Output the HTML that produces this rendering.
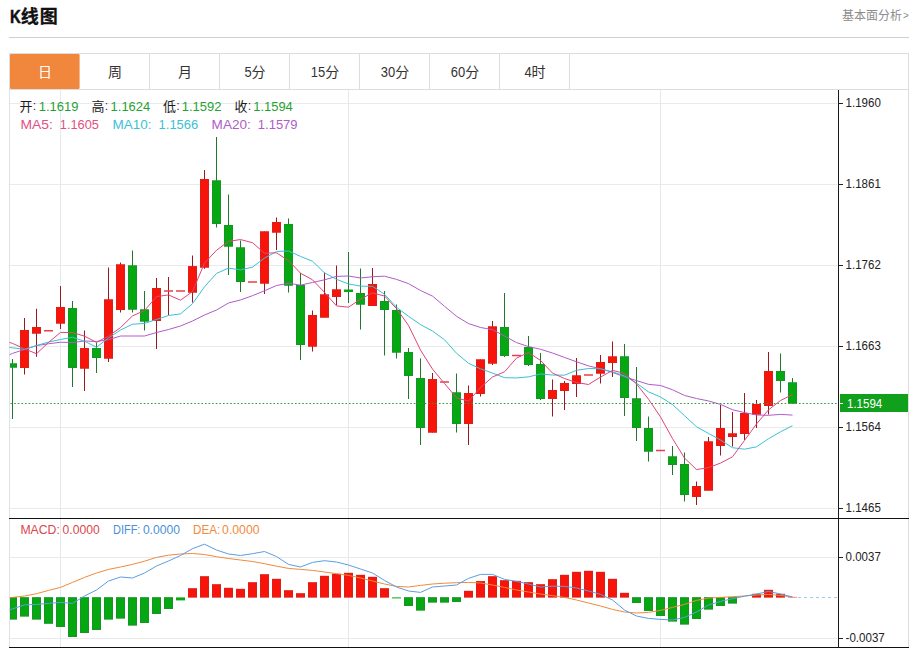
<!DOCTYPE html>
<html><head><meta charset="utf-8"><title>K-line chart</title>
<style>html,body{margin:0;padding:0;background:#fff;width:913px;height:650px;overflow:hidden;font-family:"Liberation Sans","Noto Sans CJK SC",sans-serif}</style></head>
<body>
<svg width="913" height="650" viewBox="0 0 913 650" style="position:absolute;left:0;top:0;font-family:'Liberation Sans','Noto Sans CJK SC',sans-serif">
<rect width="913" height="650" fill="#fff"/>
<text x="10" y="23" font-size="18" font-weight="700" fill="#111" stroke="#111" stroke-width="0.45" textLength="10.8" lengthAdjust="spacingAndGlyphs">K</text>
<text x="20.65 39.76" y="22.95" font-size="18" font-weight="700" fill="#111" stroke="#111" stroke-width="0.3">线图</text>
<text x="842 854 866 878 890" y="20.4" font-size="12" fill="#8c8c8c">基本面分析</text>
<text x="902.9" y="19.3" font-size="10" fill="#8c8c8c">&gt;</text>
<rect x="9" y="37" width="900" height="1" fill="#cfcfcf"/>
<rect x="9.5" y="53.5" width="899" height="36" fill="#fff" stroke="#dddddd" stroke-width="1"/>
<rect x="149" y="54" width="1" height="35" fill="#dddddd"/>
<rect x="219" y="54" width="1" height="35" fill="#dddddd"/>
<rect x="289" y="54" width="1" height="35" fill="#dddddd"/>
<rect x="359" y="54" width="1" height="35" fill="#dddddd"/>
<rect x="429" y="54" width="1" height="35" fill="#dddddd"/>
<rect x="499" y="54" width="1" height="35" fill="#dddddd"/>
<rect x="569" y="54" width="1" height="35" fill="#dddddd"/>
<rect x="10" y="54" width="69.6" height="35" rx="1.2" ry="1.2" fill="#f0873c"/>
<text x="38" y="77.2" font-size="14" fill="#fff">日</text>
<text x="108" y="77.2" font-size="14" fill="#333">周</text>
<text x="178" y="77.2" font-size="14" fill="#333">月</text>
<text x="244.40" y="77.3" font-size="14" fill="#333" textLength="7.2" lengthAdjust="spacingAndGlyphs">5</text>
<text x="251.6" y="77.2" font-size="14" fill="#333">分</text>
<text x="310.80" y="77.3" font-size="14" fill="#333" textLength="14.4" lengthAdjust="spacingAndGlyphs">15</text>
<text x="325.2" y="77.2" font-size="14" fill="#333">分</text>
<text x="380.80" y="77.3" font-size="14" fill="#333" textLength="14.4" lengthAdjust="spacingAndGlyphs">30</text>
<text x="395.2" y="77.2" font-size="14" fill="#333">分</text>
<text x="450.80" y="77.3" font-size="14" fill="#333" textLength="14.4" lengthAdjust="spacingAndGlyphs">60</text>
<text x="465.2" y="77.2" font-size="14" fill="#333">分</text>
<text x="524.40" y="77.3" font-size="14" fill="#333" textLength="7.2" lengthAdjust="spacingAndGlyphs">4</text>
<text x="531.6" y="77.2" font-size="14" fill="#333">时</text>
<rect x="9" y="90" width="1" height="558" fill="#dfe2e6"/>
<rect x="908" y="90" width="1" height="558" fill="#dddddd"/>
<rect x="10" y="103" width="827" height="1" fill="#eaeaea"/>
<rect x="10" y="184" width="827" height="1" fill="#eaeaea"/>
<rect x="10" y="265" width="827" height="1" fill="#eaeaea"/>
<rect x="10" y="346" width="827" height="1" fill="#eaeaea"/>
<rect x="10" y="427" width="827" height="1" fill="#eaeaea"/>
<rect x="10" y="508" width="827" height="1" fill="#eaeaea"/>
<rect x="10" y="557" width="827" height="1" fill="#eaeaea"/>
<rect x="10" y="638" width="827" height="1" fill="#eaeaea"/>
<rect x="60" y="90" width="1" height="558" fill="#e3e9f0"/>
<rect x="348" y="90" width="1" height="558" fill="#e3e9f0"/>
<rect x="660" y="90" width="1" height="558" fill="#e3e9f0"/>
<rect x="12.0" y="359" width="1" height="60" fill="#23752f"/>
<rect x="10" y="363.5" width="7" height="4.0" fill="#05a810"/>
<rect x="10.5" y="364.0" width="6" height="3.0" fill="none" stroke="#179428" stroke-width="1"/>
<rect x="24.0" y="318" width="1" height="56.5" fill="#9a1820"/>
<rect x="20" y="330" width="9" height="38" fill="#f8140a"/>
<rect x="20.5" y="330.5" width="8" height="37" fill="none" stroke="#dc2018" stroke-width="1"/>
<rect x="36.0" y="308.75" width="1" height="48.0" fill="#9a1820"/>
<rect x="32" y="327" width="9" height="6.5" fill="#f8140a"/>
<rect x="32.5" y="327.5" width="8" height="5.5" fill="none" stroke="#dc2018" stroke-width="1"/>
<rect x="44" y="330.0" width="9" height="1.5" fill="#e8404a"/>
<rect x="60.0" y="286" width="1" height="43" fill="#9a1820"/>
<rect x="56" y="307" width="9" height="16.5" fill="#f8140a"/>
<rect x="56.5" y="307.5" width="8" height="15.5" fill="none" stroke="#dc2018" stroke-width="1"/>
<rect x="72.0" y="301" width="1" height="86" fill="#23752f"/>
<rect x="68" y="308" width="9" height="60" fill="#05a810"/>
<rect x="68.5" y="308.5" width="8" height="59" fill="none" stroke="#179428" stroke-width="1"/>
<rect x="84.0" y="330.5" width="1" height="60.5" fill="#9a1820"/>
<rect x="80" y="348" width="9" height="20.5" fill="#f8140a"/>
<rect x="80.5" y="348.5" width="8" height="19.5" fill="none" stroke="#dc2018" stroke-width="1"/>
<rect x="96.0" y="342.5" width="1" height="30.5" fill="#23752f"/>
<rect x="92" y="348" width="9" height="10" fill="#05a810"/>
<rect x="92.5" y="348.5" width="8" height="9" fill="none" stroke="#179428" stroke-width="1"/>
<rect x="108.0" y="267.5" width="1" height="94.5" fill="#9a1820"/>
<rect x="104" y="299.5" width="9" height="59.0" fill="#f8140a"/>
<rect x="104.5" y="300.0" width="8" height="58.0" fill="none" stroke="#dc2018" stroke-width="1"/>
<rect x="120.0" y="262.5" width="1" height="50.0" fill="#9a1820"/>
<rect x="116" y="264.5" width="9" height="45.5" fill="#f8140a"/>
<rect x="116.5" y="265.0" width="8" height="44.5" fill="none" stroke="#dc2018" stroke-width="1"/>
<rect x="132.0" y="250.5" width="1" height="62.0" fill="#23752f"/>
<rect x="128" y="265.5" width="9" height="44.0" fill="#05a810"/>
<rect x="128.5" y="266.0" width="8" height="43.0" fill="none" stroke="#179428" stroke-width="1"/>
<rect x="144.0" y="291" width="1" height="39.5" fill="#23752f"/>
<rect x="140" y="309.5" width="9" height="12.0" fill="#05a810"/>
<rect x="140.5" y="310.0" width="8" height="11.0" fill="none" stroke="#179428" stroke-width="1"/>
<rect x="156.0" y="278" width="1" height="71" fill="#9a1820"/>
<rect x="152" y="288" width="9" height="33" fill="#f8140a"/>
<rect x="152.5" y="288.5" width="8" height="32" fill="none" stroke="#dc2018" stroke-width="1"/>
<rect x="168.0" y="277" width="1" height="38" fill="#9a1820"/>
<rect x="164" y="290.25" width="9" height="1.5" fill="#e8404a"/>
<rect x="176" y="290.25" width="9" height="1.5" fill="#e8404a"/>
<rect x="192.0" y="255.5" width="1" height="47.0" fill="#9a1820"/>
<rect x="188" y="266.25" width="9" height="26.25" fill="#f8140a"/>
<rect x="188.5" y="266.75" width="8" height="25.25" fill="none" stroke="#dc2018" stroke-width="1"/>
<rect x="204.0" y="170" width="1" height="98.75" fill="#9a1820"/>
<rect x="200" y="179" width="9" height="88.5" fill="#f8140a"/>
<rect x="200.5" y="179.5" width="8" height="87.5" fill="none" stroke="#dc2018" stroke-width="1"/>
<rect x="216.0" y="137" width="1" height="90.5" fill="#23752f"/>
<rect x="212" y="180.5" width="9" height="43.5" fill="#05a810"/>
<rect x="212.5" y="181.0" width="8" height="42.5" fill="none" stroke="#179428" stroke-width="1"/>
<rect x="228.0" y="194.5" width="1" height="80.5" fill="#23752f"/>
<rect x="224" y="225" width="9" height="21.5" fill="#05a810"/>
<rect x="224.5" y="225.5" width="8" height="20.5" fill="none" stroke="#179428" stroke-width="1"/>
<rect x="240.0" y="240.5" width="1" height="51.5" fill="#23752f"/>
<rect x="236" y="247.5" width="9" height="34.5" fill="#05a810"/>
<rect x="236.5" y="248.0" width="8" height="33.5" fill="none" stroke="#179428" stroke-width="1"/>
<rect x="248" y="281.25" width="9" height="1.5" fill="#e8404a"/>
<rect x="264.0" y="231.5" width="1" height="62.5" fill="#9a1820"/>
<rect x="260" y="231.5" width="9" height="52.0" fill="#f8140a"/>
<rect x="260.5" y="232.0" width="8" height="51.0" fill="none" stroke="#dc2018" stroke-width="1"/>
<rect x="276.0" y="217.5" width="1" height="32.5" fill="#9a1820"/>
<rect x="272" y="222" width="9" height="10.5" fill="#f8140a"/>
<rect x="272.5" y="222.5" width="8" height="9.5" fill="none" stroke="#dc2018" stroke-width="1"/>
<rect x="288.0" y="218.5" width="1" height="74.0" fill="#23752f"/>
<rect x="284" y="224" width="9" height="61.5" fill="#05a810"/>
<rect x="284.5" y="224.5" width="8" height="60.5" fill="none" stroke="#179428" stroke-width="1"/>
<rect x="300.0" y="273" width="1" height="87" fill="#23752f"/>
<rect x="296" y="285" width="9" height="60" fill="#05a810"/>
<rect x="296.5" y="285.5" width="8" height="59" fill="none" stroke="#179428" stroke-width="1"/>
<rect x="312.0" y="310.5" width="1" height="41.0" fill="#9a1820"/>
<rect x="308" y="315" width="9" height="31.5" fill="#f8140a"/>
<rect x="308.5" y="315.5" width="8" height="30.5" fill="none" stroke="#dc2018" stroke-width="1"/>
<rect x="324.0" y="272.5" width="1" height="45.0" fill="#9a1820"/>
<rect x="320" y="294.5" width="9" height="23.0" fill="#f8140a"/>
<rect x="320.5" y="295.0" width="8" height="22.0" fill="none" stroke="#dc2018" stroke-width="1"/>
<rect x="336.0" y="265.5" width="1" height="39.5" fill="#9a1820"/>
<rect x="332" y="289.5" width="9" height="7.5" fill="#f8140a"/>
<rect x="332.5" y="290.0" width="8" height="6.5" fill="none" stroke="#dc2018" stroke-width="1"/>
<rect x="348.0" y="252" width="1" height="51" fill="#23752f"/>
<rect x="344" y="289.5" width="9" height="2.5" fill="#05a810"/>
<rect x="360.0" y="268.5" width="1" height="61.0" fill="#23752f"/>
<rect x="356" y="293" width="9" height="11.5" fill="#05a810"/>
<rect x="356.5" y="293.5" width="8" height="10.5" fill="none" stroke="#179428" stroke-width="1"/>
<rect x="372.0" y="268" width="1" height="38" fill="#9a1820"/>
<rect x="368" y="284" width="9" height="22" fill="#f8140a"/>
<rect x="368.5" y="284.5" width="8" height="21" fill="none" stroke="#dc2018" stroke-width="1"/>
<rect x="384.0" y="291" width="1" height="64.5" fill="#23752f"/>
<rect x="380" y="301" width="9" height="9" fill="#05a810"/>
<rect x="380.5" y="301.5" width="8" height="8" fill="none" stroke="#179428" stroke-width="1"/>
<rect x="396.0" y="304.5" width="1" height="54.0" fill="#23752f"/>
<rect x="392" y="310" width="9" height="42.5" fill="#05a810"/>
<rect x="392.5" y="310.5" width="8" height="41.5" fill="none" stroke="#179428" stroke-width="1"/>
<rect x="408.0" y="348" width="1" height="51" fill="#23752f"/>
<rect x="404" y="352" width="9" height="24" fill="#05a810"/>
<rect x="404.5" y="352.5" width="8" height="23" fill="none" stroke="#179428" stroke-width="1"/>
<rect x="420.0" y="358.5" width="1" height="86.5" fill="#23752f"/>
<rect x="416" y="378" width="9" height="50" fill="#05a810"/>
<rect x="416.5" y="378.5" width="8" height="49" fill="none" stroke="#179428" stroke-width="1"/>
<rect x="432.0" y="373" width="1" height="59.5" fill="#9a1820"/>
<rect x="428" y="379" width="9" height="53.5" fill="#f8140a"/>
<rect x="428.5" y="379.5" width="8" height="52.5" fill="none" stroke="#dc2018" stroke-width="1"/>
<rect x="440" y="381.25" width="9" height="1.5" fill="#e8404a"/>
<rect x="456.0" y="373.5" width="1" height="59.0" fill="#23752f"/>
<rect x="452" y="392.5" width="9" height="31.5" fill="#05a810"/>
<rect x="452.5" y="393.0" width="8" height="30.5" fill="none" stroke="#179428" stroke-width="1"/>
<rect x="468.0" y="385.5" width="1" height="59.5" fill="#9a1820"/>
<rect x="464" y="393" width="9" height="31" fill="#f8140a"/>
<rect x="464.5" y="393.5" width="8" height="30" fill="none" stroke="#dc2018" stroke-width="1"/>
<rect x="480.0" y="359.5" width="1" height="37.0" fill="#9a1820"/>
<rect x="476" y="359.5" width="9" height="34.5" fill="#f8140a"/>
<rect x="476.5" y="360.0" width="8" height="33.5" fill="none" stroke="#dc2018" stroke-width="1"/>
<rect x="492.0" y="321" width="1" height="44" fill="#9a1820"/>
<rect x="488" y="326.5" width="9" height="37.0" fill="#f8140a"/>
<rect x="488.5" y="327.0" width="8" height="36.0" fill="none" stroke="#dc2018" stroke-width="1"/>
<rect x="504.0" y="293" width="1" height="64" fill="#23752f"/>
<rect x="500" y="327" width="9" height="29" fill="#05a810"/>
<rect x="500.5" y="327.5" width="8" height="28" fill="none" stroke="#179428" stroke-width="1"/>
<rect x="512" y="354.75" width="9" height="1.5" fill="#e8404a"/>
<rect x="528.0" y="336" width="1" height="30" fill="#23752f"/>
<rect x="524" y="347" width="9" height="18" fill="#05a810"/>
<rect x="524.5" y="347.5" width="8" height="17" fill="none" stroke="#179428" stroke-width="1"/>
<rect x="540.0" y="353" width="1" height="47" fill="#23752f"/>
<rect x="536" y="364" width="9" height="35" fill="#05a810"/>
<rect x="536.5" y="364.5" width="8" height="34" fill="none" stroke="#179428" stroke-width="1"/>
<rect x="552.0" y="379.5" width="1" height="37.0" fill="#9a1820"/>
<rect x="548" y="390" width="9" height="9" fill="#f8140a"/>
<rect x="548.5" y="390.5" width="8" height="8" fill="none" stroke="#dc2018" stroke-width="1"/>
<rect x="564.0" y="381" width="1" height="29" fill="#9a1820"/>
<rect x="560" y="383" width="9" height="8" fill="#f8140a"/>
<rect x="560.5" y="383.5" width="8" height="7" fill="none" stroke="#dc2018" stroke-width="1"/>
<rect x="576.0" y="358" width="1" height="39" fill="#9a1820"/>
<rect x="572" y="375.5" width="9" height="8.5" fill="#f8140a"/>
<rect x="572.5" y="376.0" width="8" height="7.5" fill="none" stroke="#dc2018" stroke-width="1"/>
<rect x="584" y="374.25" width="9" height="1.5" fill="#e8404a"/>
<rect x="600.0" y="355" width="1" height="28.5" fill="#9a1820"/>
<rect x="596" y="362" width="9" height="11.5" fill="#f8140a"/>
<rect x="596.5" y="362.5" width="8" height="10.5" fill="none" stroke="#dc2018" stroke-width="1"/>
<rect x="612.0" y="341.5" width="1" height="35.5" fill="#9a1820"/>
<rect x="608" y="356.5" width="9" height="6.5" fill="#f8140a"/>
<rect x="608.5" y="357.0" width="8" height="5.5" fill="none" stroke="#dc2018" stroke-width="1"/>
<rect x="624.0" y="344" width="1" height="72" fill="#23752f"/>
<rect x="620" y="356.5" width="9" height="41.5" fill="#05a810"/>
<rect x="620.5" y="357.0" width="8" height="40.5" fill="none" stroke="#179428" stroke-width="1"/>
<rect x="636.0" y="367" width="1" height="74" fill="#23752f"/>
<rect x="632" y="398.5" width="9" height="29.5" fill="#05a810"/>
<rect x="632.5" y="399.0" width="8" height="28.5" fill="none" stroke="#179428" stroke-width="1"/>
<rect x="648.0" y="416.5" width="1" height="45.0" fill="#23752f"/>
<rect x="644" y="428" width="9" height="23.5" fill="#05a810"/>
<rect x="644.5" y="428.5" width="8" height="22.5" fill="none" stroke="#179428" stroke-width="1"/>
<rect x="656" y="449.75" width="9" height="1.5" fill="#e8404a"/>
<rect x="672.0" y="446" width="1" height="29" fill="#23752f"/>
<rect x="668" y="456.5" width="9" height="8.5" fill="#05a810"/>
<rect x="668.5" y="457.0" width="8" height="7.5" fill="none" stroke="#179428" stroke-width="1"/>
<rect x="684.0" y="452.5" width="1" height="49.0" fill="#23752f"/>
<rect x="680" y="464" width="9" height="31" fill="#05a810"/>
<rect x="680.5" y="464.5" width="8" height="30" fill="none" stroke="#179428" stroke-width="1"/>
<rect x="696.0" y="481.5" width="1" height="23.5" fill="#9a1820"/>
<rect x="692" y="486" width="9" height="11" fill="#f8140a"/>
<rect x="692.5" y="486.5" width="8" height="10" fill="none" stroke="#dc2018" stroke-width="1"/>
<rect x="708.0" y="437" width="1" height="53.5" fill="#9a1820"/>
<rect x="704" y="441.5" width="9" height="49.0" fill="#f8140a"/>
<rect x="704.5" y="442.0" width="8" height="48.0" fill="none" stroke="#dc2018" stroke-width="1"/>
<rect x="720.0" y="405" width="1" height="50.5" fill="#9a1820"/>
<rect x="716" y="428" width="9" height="18" fill="#f8140a"/>
<rect x="716.5" y="428.5" width="8" height="17" fill="none" stroke="#dc2018" stroke-width="1"/>
<rect x="732.0" y="412" width="1" height="34.5" fill="#9a1820"/>
<rect x="728" y="433.5" width="9" height="3.5" fill="#f8140a"/>
<rect x="728.5" y="434.0" width="8" height="2.5" fill="none" stroke="#dc2018" stroke-width="1"/>
<rect x="744.0" y="393" width="1" height="47" fill="#9a1820"/>
<rect x="740" y="413" width="9" height="21" fill="#f8140a"/>
<rect x="740.5" y="413.5" width="8" height="20" fill="none" stroke="#dc2018" stroke-width="1"/>
<rect x="756.0" y="400" width="1" height="28" fill="#9a1820"/>
<rect x="752" y="404" width="9" height="10.5" fill="#f8140a"/>
<rect x="752.5" y="404.5" width="8" height="9.5" fill="none" stroke="#dc2018" stroke-width="1"/>
<rect x="768.0" y="352" width="1" height="62.5" fill="#9a1820"/>
<rect x="764" y="371" width="9" height="35" fill="#f8140a"/>
<rect x="764.5" y="371.5" width="8" height="34" fill="none" stroke="#dc2018" stroke-width="1"/>
<rect x="780.0" y="353.5" width="1" height="39.0" fill="#23752f"/>
<rect x="776" y="371" width="9" height="10" fill="#05a810"/>
<rect x="776.5" y="371.5" width="8" height="9" fill="none" stroke="#179428" stroke-width="1"/>
<rect x="792.0" y="378" width="1" height="25.5" fill="#23752f"/>
<rect x="788" y="382.5" width="9" height="21.0" fill="#05a810"/>
<rect x="788.5" y="383.0" width="8" height="20.0" fill="none" stroke="#179428" stroke-width="1"/>
<polyline fill="none" stroke="#b05cc8" stroke-width="1.0" stroke-linejoin="round" points="9.5,354.75 12.5,353.40 24.5,349.40 36.5,345.60 48.5,343.75 60.5,342.25 72.5,342.50 84.5,341.00 96.5,341.50 108.5,339.75 120.5,336.00 132.5,336.00 144.5,336.00 156.5,332.50 168.5,329.50 180.5,326.00 192.5,321.00 204.5,315.00 216.5,310.00 228.5,303.00 240.5,299.95 252.5,295.68 264.5,290.75 276.5,285.50 288.5,283.24 300.5,285.14 312.5,282.49 324.5,279.81 336.5,276.39 348.5,276.01 360.5,278.01 372.5,276.74 384.5,276.16 396.5,279.39 408.5,283.64 420.5,290.49 432.5,296.12 444.5,306.27 456.5,316.27 468.5,323.60 480.5,327.48 492.5,329.70 504.5,335.93 516.5,342.60 528.5,346.57 540.5,349.27 552.5,353.02 564.5,357.45 576.5,361.75 588.5,365.90 600.5,368.77 612.5,372.40 624.5,376.80 636.5,380.57 648.5,384.35 660.5,385.48 672.5,389.77 684.5,395.43 696.5,398.52 708.5,400.95 720.5,404.38 732.5,409.73 744.5,412.57 756.5,415.00 768.5,415.30 780.5,414.40 792.5,415.07"/>
<polyline fill="none" stroke="#3cc0d6" stroke-width="1.0" stroke-linejoin="round" points="9.5,347.4 12.5,347.80 24.5,349.40 36.5,345.60 48.5,342.00 60.5,339.50 72.5,337.25 84.5,341.25 96.5,347.20 108.5,338.00 120.5,330.02 132.5,324.23 144.5,323.38 156.5,319.48 168.5,315.50 180.5,313.90 192.5,303.73 204.5,286.82 216.5,273.43 228.5,268.12 240.5,269.88 252.5,267.12 264.5,258.12 276.5,251.53 288.5,250.97 300.5,256.38 312.5,261.25 324.5,272.80 336.5,279.35 348.5,283.90 360.5,286.15 372.5,286.35 384.5,294.20 396.5,307.25 408.5,316.30 420.5,324.60 432.5,331.00 444.5,339.75 456.5,353.20 468.5,363.30 480.5,368.80 492.5,373.05 504.5,377.65 516.5,377.95 528.5,376.85 540.5,373.95 552.5,375.05 564.5,375.15 576.5,370.30 588.5,368.50 600.5,368.75 612.5,371.75 624.5,375.95 636.5,383.20 648.5,391.85 660.5,397.00 672.5,404.50 684.5,415.70 696.5,426.75 708.5,433.40 720.5,440.00 732.5,447.70 744.5,449.20 756.5,446.80 768.5,438.75 780.5,431.80 792.5,425.65"/>
<polyline fill="none" stroke="#e0457a" stroke-width="1.0" stroke-linejoin="round" points="9.5,342.5 12.5,343.40 24.5,348.75 36.5,353.75 48.5,342.50 60.5,332.45 72.5,332.55 84.5,336.15 96.5,342.35 108.5,336.10 120.5,327.60 132.5,315.90 144.5,310.60 156.5,296.60 168.5,294.90 180.5,300.20 192.5,291.55 204.5,263.05 216.5,250.25 228.5,241.35 240.5,239.55 252.5,242.70 264.5,253.20 276.5,252.80 288.5,260.60 300.5,273.20 312.5,279.80 324.5,292.40 336.5,305.90 348.5,307.20 360.5,299.10 372.5,292.90 384.5,296.00 396.5,308.60 408.5,325.40 420.5,350.10 432.5,369.10 444.5,383.50 456.5,397.80 468.5,401.20 480.5,387.50 492.5,377.00 504.5,371.80 516.5,358.10 528.5,352.50 540.5,360.40 552.5,373.10 564.5,378.50 576.5,382.50 588.5,384.50 600.5,377.10 612.5,370.40 624.5,373.40 636.5,383.90 648.5,399.20 660.5,416.90 672.5,438.60 684.5,458.00 696.5,469.60 708.5,467.60 720.5,463.10 732.5,456.80 744.5,440.40 756.5,424.00 768.5,409.90 780.5,400.50 792.5,394.50"/>
<line x1="10.6" y1="403.5" x2="837" y2="403.5" stroke="#2f9a3a" stroke-width="1" stroke-dasharray="1.6 2"/>
<rect x="10" y="597.4" width="7" height="22.0" fill="#05a810"/>
<rect x="10.5" y="597.9" width="6" height="21.0" fill="none" stroke="#179428" stroke-width="1"/>
<rect x="20" y="597.4" width="9" height="19.0" fill="#05a810"/>
<rect x="20.5" y="597.9" width="8" height="18.0" fill="none" stroke="#179428" stroke-width="1"/>
<rect x="32" y="597.4" width="9" height="22.0" fill="#05a810"/>
<rect x="32.5" y="597.9" width="8" height="21.0" fill="none" stroke="#179428" stroke-width="1"/>
<rect x="44" y="597.4" width="9" height="26.2" fill="#05a810"/>
<rect x="44.5" y="597.9" width="8" height="25.2" fill="none" stroke="#179428" stroke-width="1"/>
<rect x="56" y="597.4" width="9" height="29.5" fill="#05a810"/>
<rect x="56.5" y="597.9" width="8" height="28.5" fill="none" stroke="#179428" stroke-width="1"/>
<rect x="68" y="597.4" width="9" height="39.5" fill="#05a810"/>
<rect x="68.5" y="597.9" width="8" height="38.5" fill="none" stroke="#179428" stroke-width="1"/>
<rect x="80" y="597.4" width="9" height="35.5" fill="#05a810"/>
<rect x="80.5" y="597.9" width="8" height="34.5" fill="none" stroke="#179428" stroke-width="1"/>
<rect x="92" y="597.4" width="9" height="32.5" fill="#05a810"/>
<rect x="92.5" y="597.9" width="8" height="31.5" fill="none" stroke="#179428" stroke-width="1"/>
<rect x="104" y="597.4" width="9" height="22.0" fill="#05a810"/>
<rect x="104.5" y="597.9" width="8" height="21.0" fill="none" stroke="#179428" stroke-width="1"/>
<rect x="116" y="597.4" width="9" height="21.0" fill="#05a810"/>
<rect x="116.5" y="597.9" width="8" height="20.0" fill="none" stroke="#179428" stroke-width="1"/>
<rect x="128" y="597.4" width="9" height="28.0" fill="#05a810"/>
<rect x="128.5" y="597.9" width="8" height="27.0" fill="none" stroke="#179428" stroke-width="1"/>
<rect x="140" y="597.4" width="9" height="25.5" fill="#05a810"/>
<rect x="140.5" y="597.9" width="8" height="24.5" fill="none" stroke="#179428" stroke-width="1"/>
<rect x="152" y="597.4" width="9" height="16.5" fill="#05a810"/>
<rect x="152.5" y="597.9" width="8" height="15.5" fill="none" stroke="#179428" stroke-width="1"/>
<rect x="164" y="597.4" width="9" height="11.5" fill="#05a810"/>
<rect x="164.5" y="597.9" width="8" height="10.5" fill="none" stroke="#179428" stroke-width="1"/>
<rect x="176" y="597.4" width="9" height="3.0" fill="#05a810"/>
<rect x="188" y="588.4" width="9" height="9.0" fill="#f8140a"/>
<rect x="188.5" y="588.9" width="8" height="8.0" fill="none" stroke="#dc2018" stroke-width="1"/>
<rect x="200" y="576.4" width="9" height="21.0" fill="#f8140a"/>
<rect x="200.5" y="576.9" width="8" height="20.0" fill="none" stroke="#dc2018" stroke-width="1"/>
<rect x="212" y="584.4" width="9" height="13.0" fill="#f8140a"/>
<rect x="212.5" y="584.9" width="8" height="12.0" fill="none" stroke="#dc2018" stroke-width="1"/>
<rect x="224" y="587.9" width="9" height="9.5" fill="#f8140a"/>
<rect x="224.5" y="588.4" width="8" height="8.5" fill="none" stroke="#dc2018" stroke-width="1"/>
<rect x="236" y="588.9" width="9" height="8.5" fill="#f8140a"/>
<rect x="236.5" y="589.4" width="8" height="7.5" fill="none" stroke="#dc2018" stroke-width="1"/>
<rect x="248" y="582.4" width="9" height="15.0" fill="#f8140a"/>
<rect x="248.5" y="582.9" width="8" height="14.0" fill="none" stroke="#dc2018" stroke-width="1"/>
<rect x="260" y="574.4" width="9" height="23.0" fill="#f8140a"/>
<rect x="260.5" y="574.9" width="8" height="22.0" fill="none" stroke="#dc2018" stroke-width="1"/>
<rect x="272" y="578.9" width="9" height="18.5" fill="#f8140a"/>
<rect x="272.5" y="579.4" width="8" height="17.5" fill="none" stroke="#dc2018" stroke-width="1"/>
<rect x="284" y="590.4" width="9" height="7.0" fill="#f8140a"/>
<rect x="284.5" y="590.9" width="8" height="6.0" fill="none" stroke="#dc2018" stroke-width="1"/>
<rect x="296" y="593.4" width="9" height="4.0" fill="#f8140a"/>
<rect x="296.5" y="593.9" width="8" height="3.0" fill="none" stroke="#dc2018" stroke-width="1"/>
<rect x="308" y="582.4" width="9" height="15.0" fill="#f8140a"/>
<rect x="308.5" y="582.9" width="8" height="14.0" fill="none" stroke="#dc2018" stroke-width="1"/>
<rect x="320" y="575.9" width="9" height="21.5" fill="#f8140a"/>
<rect x="320.5" y="576.4" width="8" height="20.5" fill="none" stroke="#dc2018" stroke-width="1"/>
<rect x="332" y="573.9" width="9" height="23.5" fill="#f8140a"/>
<rect x="332.5" y="574.4" width="8" height="22.5" fill="none" stroke="#dc2018" stroke-width="1"/>
<rect x="344" y="572.9" width="9" height="24.5" fill="#f8140a"/>
<rect x="344.5" y="573.4" width="8" height="23.5" fill="none" stroke="#dc2018" stroke-width="1"/>
<rect x="356" y="574.9" width="9" height="22.5" fill="#f8140a"/>
<rect x="356.5" y="575.4" width="8" height="21.5" fill="none" stroke="#dc2018" stroke-width="1"/>
<rect x="368" y="576.9" width="9" height="20.5" fill="#f8140a"/>
<rect x="368.5" y="577.4" width="8" height="19.5" fill="none" stroke="#dc2018" stroke-width="1"/>
<rect x="380" y="588.4" width="9" height="9.0" fill="#f8140a"/>
<rect x="380.5" y="588.9" width="8" height="8.0" fill="none" stroke="#dc2018" stroke-width="1"/>
<rect x="392" y="597.4" width="9" height="1.0" fill="#05a810"/>
<rect x="404" y="597.4" width="9" height="8.5" fill="#05a810"/>
<rect x="404.5" y="597.9" width="8" height="7.5" fill="none" stroke="#179428" stroke-width="1"/>
<rect x="416" y="597.4" width="9" height="13.0" fill="#05a810"/>
<rect x="416.5" y="597.9" width="8" height="12.0" fill="none" stroke="#179428" stroke-width="1"/>
<rect x="428" y="597.4" width="9" height="5.0" fill="#05a810"/>
<rect x="428.5" y="597.9" width="8" height="4.0" fill="none" stroke="#179428" stroke-width="1"/>
<rect x="440" y="597.4" width="9" height="5.0" fill="#05a810"/>
<rect x="440.5" y="597.9" width="8" height="4.0" fill="none" stroke="#179428" stroke-width="1"/>
<rect x="452" y="597.4" width="9" height="4.5" fill="#05a810"/>
<rect x="452.5" y="597.9" width="8" height="3.5" fill="none" stroke="#179428" stroke-width="1"/>
<rect x="464" y="590.9" width="9" height="6.5" fill="#f8140a"/>
<rect x="464.5" y="591.4" width="8" height="5.5" fill="none" stroke="#dc2018" stroke-width="1"/>
<rect x="476" y="581.2" width="9" height="16.2" fill="#f8140a"/>
<rect x="476.5" y="581.7" width="8" height="15.2" fill="none" stroke="#dc2018" stroke-width="1"/>
<rect x="488" y="576.4" width="9" height="21.0" fill="#f8140a"/>
<rect x="488.5" y="576.9" width="8" height="20.0" fill="none" stroke="#dc2018" stroke-width="1"/>
<rect x="500" y="580.4" width="9" height="17.0" fill="#f8140a"/>
<rect x="500.5" y="580.9" width="8" height="16.0" fill="none" stroke="#dc2018" stroke-width="1"/>
<rect x="512" y="580.9" width="9" height="16.5" fill="#f8140a"/>
<rect x="512.5" y="581.4" width="8" height="15.5" fill="none" stroke="#dc2018" stroke-width="1"/>
<rect x="524" y="582.4" width="9" height="15.0" fill="#f8140a"/>
<rect x="524.5" y="582.9" width="8" height="14.0" fill="none" stroke="#dc2018" stroke-width="1"/>
<rect x="536" y="584.4" width="9" height="13.0" fill="#f8140a"/>
<rect x="536.5" y="584.9" width="8" height="12.0" fill="none" stroke="#dc2018" stroke-width="1"/>
<rect x="548" y="579.4" width="9" height="18.0" fill="#f8140a"/>
<rect x="548.5" y="579.9" width="8" height="17.0" fill="none" stroke="#dc2018" stroke-width="1"/>
<rect x="560" y="574.9" width="9" height="22.5" fill="#f8140a"/>
<rect x="560.5" y="575.4" width="8" height="21.5" fill="none" stroke="#dc2018" stroke-width="1"/>
<rect x="572" y="571.9" width="9" height="25.5" fill="#f8140a"/>
<rect x="572.5" y="572.4" width="8" height="24.5" fill="none" stroke="#dc2018" stroke-width="1"/>
<rect x="584" y="570.9" width="9" height="26.5" fill="#f8140a"/>
<rect x="584.5" y="571.4" width="8" height="25.5" fill="none" stroke="#dc2018" stroke-width="1"/>
<rect x="596" y="571.9" width="9" height="25.5" fill="#f8140a"/>
<rect x="596.5" y="572.4" width="8" height="24.5" fill="none" stroke="#dc2018" stroke-width="1"/>
<rect x="608" y="578.9" width="9" height="18.5" fill="#f8140a"/>
<rect x="608.5" y="579.4" width="8" height="17.5" fill="none" stroke="#dc2018" stroke-width="1"/>
<rect x="620" y="592.9" width="9" height="4.5" fill="#f8140a"/>
<rect x="620.5" y="593.4" width="8" height="3.5" fill="none" stroke="#dc2018" stroke-width="1"/>
<rect x="632" y="597.4" width="9" height="5.5" fill="#05a810"/>
<rect x="632.5" y="597.9" width="8" height="4.5" fill="none" stroke="#179428" stroke-width="1"/>
<rect x="644" y="597.4" width="9" height="13.5" fill="#05a810"/>
<rect x="644.5" y="597.9" width="8" height="12.5" fill="none" stroke="#179428" stroke-width="1"/>
<rect x="656" y="597.4" width="9" height="18.5" fill="#05a810"/>
<rect x="656.5" y="597.9" width="8" height="17.5" fill="none" stroke="#179428" stroke-width="1"/>
<rect x="668" y="597.4" width="9" height="24.0" fill="#05a810"/>
<rect x="668.5" y="597.9" width="8" height="23.0" fill="none" stroke="#179428" stroke-width="1"/>
<rect x="680" y="597.4" width="9" height="27.0" fill="#05a810"/>
<rect x="680.5" y="597.9" width="8" height="26.0" fill="none" stroke="#179428" stroke-width="1"/>
<rect x="692" y="597.4" width="9" height="21.5" fill="#05a810"/>
<rect x="692.5" y="597.9" width="8" height="20.5" fill="none" stroke="#179428" stroke-width="1"/>
<rect x="704" y="597.4" width="9" height="12.0" fill="#05a810"/>
<rect x="704.5" y="597.9" width="8" height="11.0" fill="none" stroke="#179428" stroke-width="1"/>
<rect x="716" y="597.4" width="9" height="8.5" fill="#05a810"/>
<rect x="716.5" y="597.9" width="8" height="7.5" fill="none" stroke="#179428" stroke-width="1"/>
<rect x="728" y="597.4" width="9" height="6.0" fill="#05a810"/>
<rect x="728.5" y="597.9" width="8" height="5.0" fill="none" stroke="#179428" stroke-width="1"/>
<rect x="752" y="593.9" width="9" height="3.5" fill="#f8140a"/>
<rect x="752.5" y="594.4" width="8" height="2.5" fill="none" stroke="#dc2018" stroke-width="1"/>
<rect x="764" y="589.9" width="9" height="7.5" fill="#f8140a"/>
<rect x="764.5" y="590.4" width="8" height="6.5" fill="none" stroke="#dc2018" stroke-width="1"/>
<rect x="776" y="593.9" width="9" height="3.5" fill="#f8140a"/>
<rect x="776.5" y="594.4" width="8" height="2.5" fill="none" stroke="#dc2018" stroke-width="1"/>
<rect x="788" y="596.9" width="9" height="0.5" fill="#f8140a"/>
<line x1="798" y1="597.5" x2="838" y2="597.5" stroke="#9ccbeb" stroke-width="1" stroke-dasharray="3 3"/>
<polyline fill="none" stroke="#f08a3c" stroke-width="1.0" stroke-linejoin="round" points="9.5,597.9 12.5,597.40 24.5,596.00 36.5,593.70 48.5,590.40 60.5,587.40 72.5,582.40 84.5,577.40 96.5,573.00 108.5,569.40 120.5,567.00 132.5,564.40 144.5,561.20 156.5,557.40 168.5,555.20 180.5,554.00 192.5,553.50 204.5,554.50 216.5,556.70 228.5,558.50 240.5,560.00 252.5,561.50 264.5,563.70 276.5,566.20 288.5,568.40 300.5,569.40 312.5,570.40 324.5,572.00 336.5,573.70 348.5,575.40 360.5,578.00 372.5,581.00 384.5,584.00 396.5,586.40 408.5,587.00 420.5,585.40 432.5,584.00 444.5,583.20 456.5,582.70 468.5,582.40 480.5,583.00 492.5,585.00 504.5,587.40 516.5,590.00 528.5,592.00 540.5,594.00 552.5,595.70 564.5,597.40 576.5,600.00 588.5,603.00 600.5,606.00 612.5,609.40 624.5,612.00 636.5,613.00 648.5,612.40 660.5,610.40 672.5,607.40 684.5,604.40 696.5,600.40 708.5,598.00 720.5,597.40 732.5,596.70 744.5,596.00 756.5,595.00 768.5,594.40 780.5,595.40 792.5,597.00"/>
<polyline fill="none" stroke="#5b9ee0" stroke-width="1.0" stroke-linejoin="round" points="9.5,609.9 12.5,608.90 24.5,604.90 36.5,604.40 48.5,603.40 60.5,602.40 72.5,603.40 84.5,596.00 96.5,590.00 108.5,581.00 120.5,577.00 132.5,578.00 144.5,573.00 156.5,566.00 168.5,561.00 180.5,555.50 192.5,548.70 204.5,544.20 216.5,550.00 228.5,554.00 240.5,555.50 252.5,553.70 264.5,551.50 276.5,556.50 288.5,564.40 300.5,567.00 312.5,562.40 324.5,560.70 336.5,562.00 348.5,565.00 360.5,569.00 372.5,573.00 384.5,580.40 396.5,587.00 408.5,591.00 420.5,592.40 432.5,587.00 444.5,586.00 456.5,585.00 468.5,578.40 480.5,574.40 492.5,574.40 504.5,579.40 516.5,581.40 528.5,584.00 540.5,587.00 552.5,586.20 564.5,586.40 576.5,588.00 588.5,591.00 600.5,594.40 612.5,600.00 624.5,610.00 636.5,616.00 648.5,618.40 660.5,619.40 672.5,620.00 684.5,617.40 696.5,612.00 708.5,605.00 720.5,601.40 732.5,598.70 744.5,596.20 756.5,594.00 768.5,591.40 780.5,594.00 792.5,597.00"/>
<rect x="9" y="518" width="900" height="1" fill="#111"/>
<rect x="9" y="647" width="900" height="1" fill="#111"/>
<rect x="838" y="90" width="1" height="558" fill="#1a1a1a"/>
<rect x="839" y="103" width="4" height="1" fill="#222"/>
<text x="845.6" y="107.4" font-size="12" fill="#222" textLength="35.2" lengthAdjust="spacingAndGlyphs">1.1960</text>
<rect x="839" y="184" width="4" height="1" fill="#222"/>
<text x="845.6" y="188.4" font-size="12" fill="#222" textLength="35.2" lengthAdjust="spacingAndGlyphs">1.1861</text>
<rect x="839" y="265" width="4" height="1" fill="#222"/>
<text x="845.6" y="269.4" font-size="12" fill="#222" textLength="35.2" lengthAdjust="spacingAndGlyphs">1.1762</text>
<rect x="839" y="346" width="4" height="1" fill="#222"/>
<text x="845.6" y="350.4" font-size="12" fill="#222" textLength="35.2" lengthAdjust="spacingAndGlyphs">1.1663</text>
<rect x="839" y="427" width="4" height="1" fill="#222"/>
<text x="845.6" y="431.4" font-size="12" fill="#222" textLength="35.2" lengthAdjust="spacingAndGlyphs">1.1564</text>
<rect x="839" y="508" width="4" height="1" fill="#222"/>
<text x="845.6" y="512.4" font-size="12" fill="#222" textLength="35.2" lengthAdjust="spacingAndGlyphs">1.1465</text>
<rect x="839" y="557" width="4" height="1" fill="#222"/>
<text x="845.6" y="561.4" font-size="12" fill="#222" textLength="35.2" lengthAdjust="spacingAndGlyphs">0.0037</text>
<rect x="839" y="638" width="4" height="1" fill="#222"/>
<text x="845.6" y="642.4" font-size="12" fill="#222" textLength="39.2" lengthAdjust="spacingAndGlyphs">-0.0037</text>
<rect x="840" y="394" width="68" height="18" fill="#10a01c"/>
<rect x="839" y="403" width="4" height="1" fill="#fff"/>
<text x="847" y="407.7" font-size="12" fill="#fff" textLength="35.2" lengthAdjust="spacingAndGlyphs">1.1594</text>
<text x="19.6" y="110.6" font-size="13" fill="#1c1c1c">开</text>
<text x="33.0" y="110.4" font-size="13" fill="#222" textLength="3.0" lengthAdjust="spacingAndGlyphs">:</text>
<text x="38.8" y="110.6" font-size="13" fill="#26a233" textLength="39.6" lengthAdjust="spacingAndGlyphs">1.1619</text>
<text x="91.6" y="110.6" font-size="13" fill="#1c1c1c">高</text>
<text x="105.0" y="110.4" font-size="13" fill="#222" textLength="3.0" lengthAdjust="spacingAndGlyphs">:</text>
<text x="110.6" y="110.6" font-size="13" fill="#26a233" textLength="39.6" lengthAdjust="spacingAndGlyphs">1.1624</text>
<text x="163" y="110.6" font-size="13" fill="#1c1c1c">低</text>
<text x="176.4" y="110.4" font-size="13" fill="#222" textLength="3.0" lengthAdjust="spacingAndGlyphs">:</text>
<text x="181.8" y="110.6" font-size="13" fill="#26a233" textLength="39.6" lengthAdjust="spacingAndGlyphs">1.1592</text>
<text x="234.6" y="110.6" font-size="13" fill="#1c1c1c">收</text>
<text x="248.0" y="110.4" font-size="13" fill="#222" textLength="3.0" lengthAdjust="spacingAndGlyphs">:</text>
<text x="253.2" y="110.6" font-size="13" fill="#26a233" textLength="39.6" lengthAdjust="spacingAndGlyphs">1.1594</text>
<text x="20.4" y="128.6" font-size="13" fill="#e2507f" textLength="32.4" lengthAdjust="spacingAndGlyphs">MA5:</text>
<text x="59.8" y="128.6" font-size="13" fill="#e2507f" textLength="39.2" lengthAdjust="spacingAndGlyphs">1.1605</text>
<text x="112.6" y="128.6" font-size="13" fill="#3cc0d6" textLength="39.0" lengthAdjust="spacingAndGlyphs">MA10:</text>
<text x="158.6" y="128.6" font-size="13" fill="#3cc0d6" textLength="39.6" lengthAdjust="spacingAndGlyphs">1.1566</text>
<text x="211.6" y="128.6" font-size="13" fill="#b05cc8" textLength="39.2" lengthAdjust="spacingAndGlyphs">MA20:</text>
<text x="257.8" y="128.6" font-size="13" fill="#b05cc8" textLength="39.8" lengthAdjust="spacingAndGlyphs">1.1579</text>
<text x="20.4" y="533.8" font-size="12" fill="#d9474a" textLength="39.4" lengthAdjust="spacingAndGlyphs">MACD:</text>
<text x="62.6" y="533.8" font-size="12" fill="#d9474a" textLength="37.2" lengthAdjust="spacingAndGlyphs">0.0000</text>
<text x="113.0" y="533.8" font-size="12" fill="#4a90d9" textLength="27.4" lengthAdjust="spacingAndGlyphs">DIFF:</text>
<text x="142.9" y="533.8" font-size="12" fill="#4a90d9" textLength="37.0" lengthAdjust="spacingAndGlyphs">0.0000</text>
<text x="193.0" y="533.8" font-size="12" fill="#f08a3c" textLength="27.2" lengthAdjust="spacingAndGlyphs">DEA:</text>
<text x="222.1" y="533.8" font-size="12" fill="#f08a3c" textLength="37.4" lengthAdjust="spacingAndGlyphs">0.0000</text>
</svg>
</body></html>
